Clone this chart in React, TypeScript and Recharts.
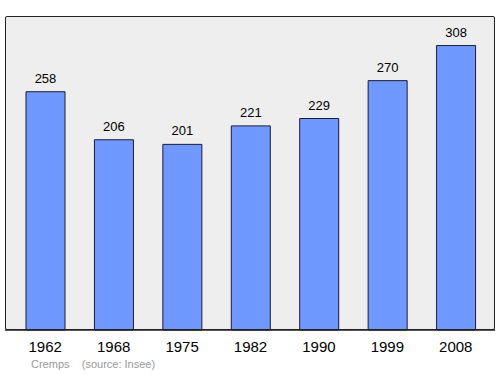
import React from 'react';
import { BarChart, Bar, XAxis, YAxis, CartesianGrid, LabelList } from 'recharts';

const years = ['1962', '1968', '1975', '1982', '1990', '1999', '2008'];
const population = [258, 206, 201, 221, 229, 270, 308];

const data = years.map((y, i) => ({ year: y, pop: population[i] }));

const font = '"Liberation Sans", Arial, sans-serif';

export default function App() {
  return (
    <div style={{ position: 'absolute', left: 0, top: 0, width: 500, height: 374, background: '#fff', fontFamily: font }}>
      <BarChart width={500} height={374} data={data} margin={{ top: 16, right: 5, bottom: 14, left: 5 }}>
        <CartesianGrid fill="#eeeeee" horizontal={false} vertical={false} />
        <XAxis
          dataKey="year"
          height={30}
          padding={{ left: 6, right: 5 }}
          tickLine={false}
          tickSize={0}
          tickMargin={11}
          axisLine={{ stroke: '#222', strokeWidth: 1.5 }}
          tick={{ fill: '#000', fontSize: 15, fontFamily: font }}
        />
        <YAxis domain={[0, 340]} hide />
        <Bar dataKey="pop" fill="#7099ff" stroke="#1a1a3a" strokeWidth={1} barSize={39} isAnimationActive={false}>
          <LabelList dataKey="pop" position="top" offset={9} fill="#000" fontSize={13} fontFamily={font} />
        </Bar>
      </BarChart>
      <div style={{ position: 'absolute', left: 5, top: 16, width: 490, height: 314, boxSizing: 'border-box', border: '1.5px solid #222', borderRadius: 2, pointerEvents: 'none' }} />
      <div style={{ position: 'absolute', left: 31, top: 358, fontSize: 11, color: '#999', whiteSpace: 'pre', fontFamily: font }}>
        {'Cremps    (source: Insee)'}
      </div>
    </div>
  );
}
